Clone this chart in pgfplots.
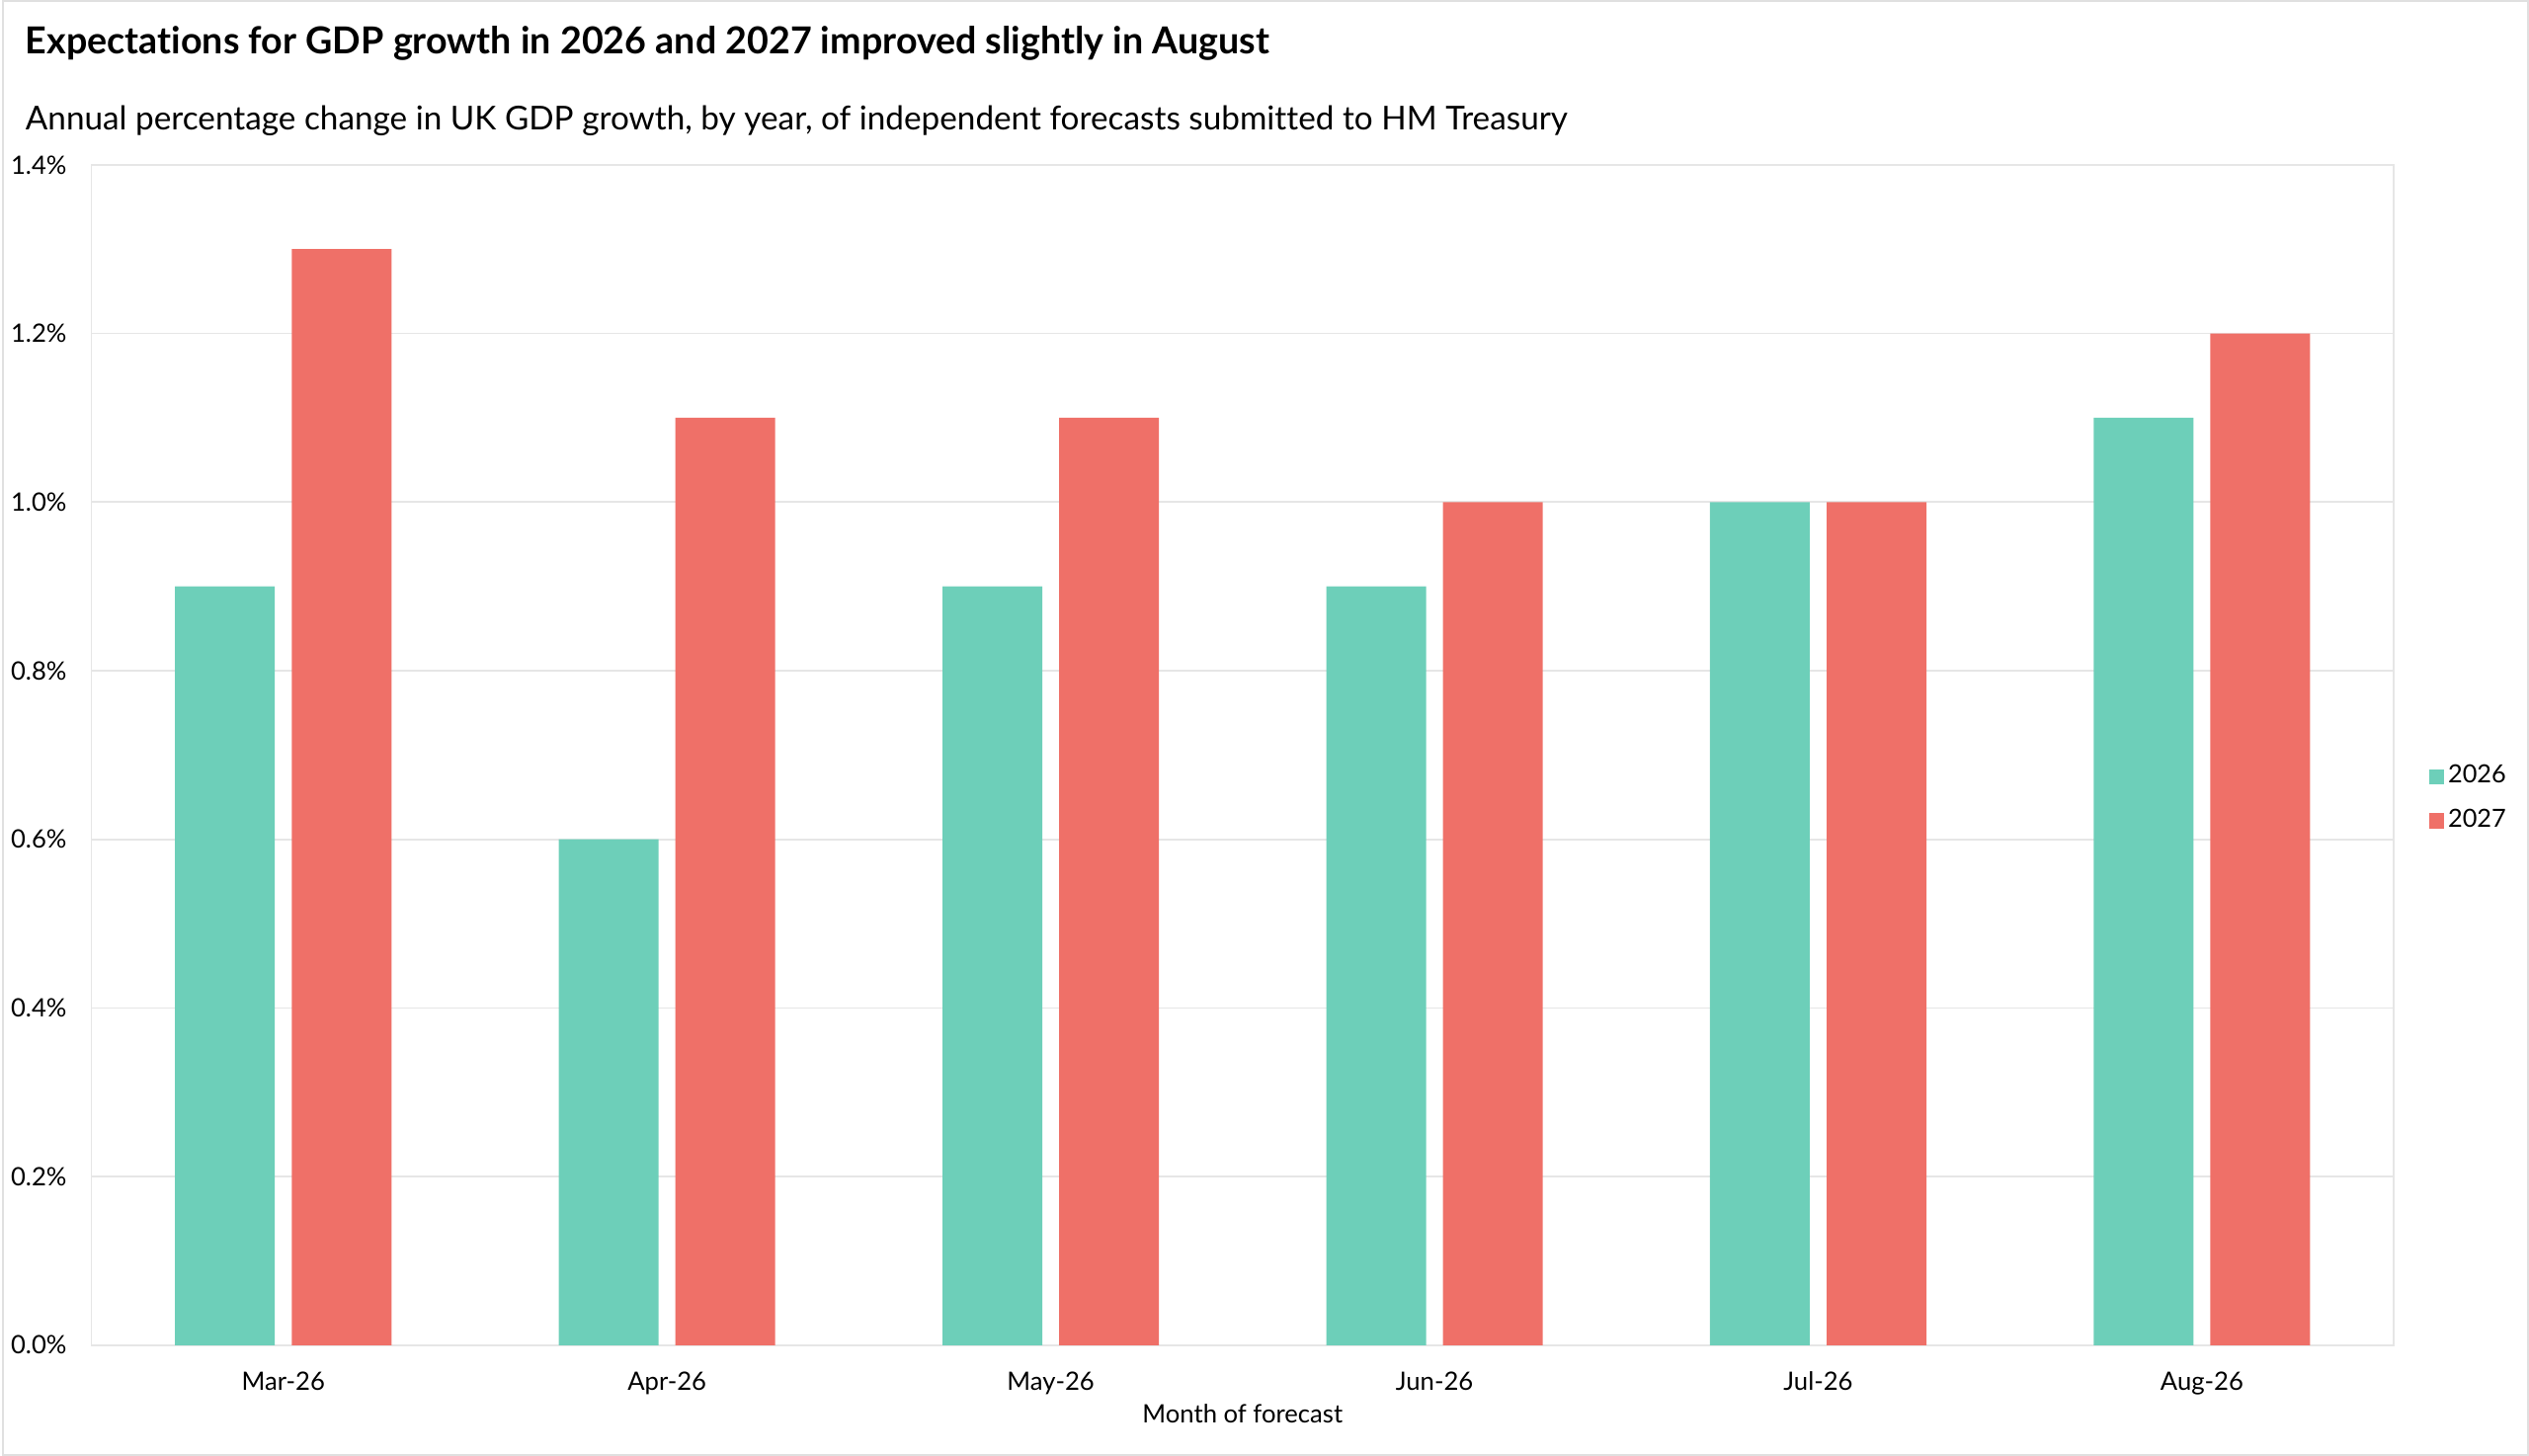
\documentclass[border=0pt]{standalone}
\usepackage{fontspec}
\setmainfont{Lato}[Ligatures=NoCommon]
\usepackage{pgfplots}
\pgfplotsset{compat=1.18}
\definecolor{cgreen}{RGB}{109,207,185}
\definecolor{cred}{RGB}{239,112,104}
\definecolor{cgrid}{RGB}{230,230,230}
\definecolor{cframe}{RGB}{224,224,224}
\begin{document}
\begin{tikzpicture}[x=1pt,y=1pt]
\draw[cframe, line width=0.6pt] (0.3,0.3) rectangle (767.7,442.2);
\node[anchor=base west, inner sep=0pt, font=\fontsize{11.3}{13}\selectfont\bfseries] at (6.9,426) {Expectations for GDP growth in 2026 and 2027 improved slightly in August};
\node[anchor=base west, inner sep=0pt, font=\fontsize{10}{12}\selectfont] at (6.9,402.9) {Annual percentage change in UK GDP growth, by year, of independent forecasts submitted to HM Treasury};
\begin{axis}[
  at={(27.1pt,33.6pt)}, anchor=south west,
  scale only axis, width=699.8pt, height=358.8pt,
  xmin=-0.5, xmax=5.5, ymin=0, ymax=1.4,
  axis line style={cgrid, line width=0.5pt},
  major tick length=0pt,
  xtick={0,1,2,3,4,5},
  xticklabels={Mar-26,Apr-26,May-26,Jun-26,Jul-26,Aug-26},
  ytick={0,0.2,0.4,0.6,0.8,1.0,1.2,1.4},
  yticklabels={0.0\%,0.2\%,0.4\%,0.6\%,0.8\%,1.0\%,1.2\%,1.4\%},
  ymajorgrids, grid style={cgrid, line width=0.5pt},
  tick label style={font=\fontsize{7.7}{9}\selectfont, black},
  yticklabel style={xshift=-4pt},
  xticklabel style={yshift=-4.5pt},
  xlabel={Month of forecast},
  xlabel style={font=\fontsize{7.7}{9}\selectfont, yshift=3.8pt},
  ybar, bar width=0.26,
  legend style={at={(1.015,0.463)}, anchor=west, draw=none, fill=none,
    font=\fontsize{7.6}{9}\selectfont, row sep=4pt, inner sep=0pt,
    nodes={inner sep=1.2pt}},
  legend cell align=left,
  legend image code/.code={\fill[#1] (0pt,-2.3pt) rectangle (4.6pt,2.3pt);},
]
\addplot[fill=cgreen, draw=none, bar shift=-0.152] coordinates {(0,0.9) (1,0.6) (2,0.9) (3,0.9) (4,1.0) (5,1.1)};
\addplot[fill=cred, draw=none, bar shift=0.152] coordinates {(0,1.3) (1,1.1) (2,1.1) (3,1.0) (4,1.0) (5,1.2)};
\legend{2026,2027}
\end{axis}
\end{tikzpicture}
\end{document}
